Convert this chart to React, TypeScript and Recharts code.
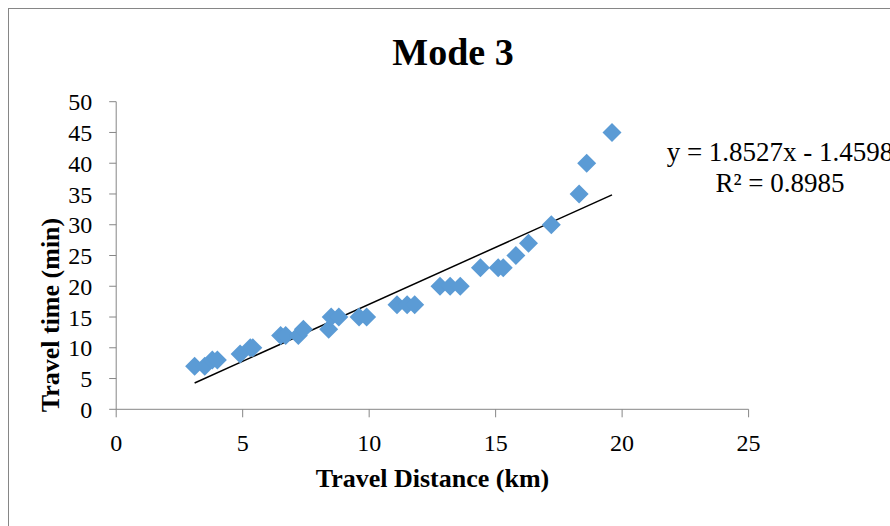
import { ScatterChart, Scatter, XAxis, YAxis, ReferenceLine } from 'recharts'

const distanceKm = [3.1, 3.5, 3.8, 4.0, 4.9, 5.3, 5.4, 6.5, 6.7, 7.2, 7.4, 8.4, 8.5, 8.8, 9.6, 9.9, 11.1, 11.5, 11.8, 12.8, 13.2, 13.6, 14.4, 15.1, 15.3, 15.8, 16.3, 17.2, 18.3, 18.6, 19.6]
const travelMin = [7, 7, 8, 8, 9, 10, 10, 12, 12, 12, 13, 13, 15, 15, 15, 15, 17, 17, 17, 20, 20, 20, 23, 23, 23, 25, 27, 30, 35, 40, 45]
const xTicks = [0, 5, 10, 15, 20, 25]
const yTicks = [0, 5, 10, 15, 20, 25, 30, 35, 40, 45, 50]
const slope = 1.8527
const intercept = -1.4598
const rSquared = 0.8985

const points = distanceKm.map((x, i) => ({ x, y: travelMin[i] }))
const xMin = Math.min(...distanceKm)
const xMax = Math.max(...distanceKm)
const trend = [
  { x: xMin, y: slope * xMin + intercept },
  { x: xMax, y: slope * xMax + intercept },
]

const serif = '"Times New Roman", "Liberation Serif", serif'
const axisGray = '#868686'

function Diamond(props: any) {
  const { cx, cy } = props
  const r = 9.5
  return (
    <polygon
      points={`${cx},${cy - r} ${cx + r},${cy} ${cx},${cy + r} ${cx - r},${cy}`}
      fill="#5B9BD5"
    />
  )
}

const textBase: React.CSSProperties = {
  position: 'absolute',
  fontFamily: serif,
  color: '#000',
  whiteSpace: 'nowrap',
  textAlign: 'center',
}

export default function App() {
  return (
    <div style={{ position: 'fixed', left: 0, top: 0, width: 890, height: 526, overflow: 'hidden', background: '#fff' }}>
      <div style={{ position: 'absolute', left: 8, top: 8, width: 900, height: 600, borderTop: `1px solid ${axisGray}`, borderLeft: `1px solid ${axisGray}` }} />
      <div style={{ position: 'absolute', left: 0, top: 0 }}>
        <ScatterChart
          width={890}
          height={526}
          margin={{ top: 101.7, right: 141.4, bottom: 66.7, left: 16.2 }}
        >
          <XAxis
            type="number"
            dataKey="x"
            domain={[0, 25]}
            ticks={xTicks}
            interval={0}
            height={50}
            stroke={axisGray}
            tickSize={8}
            tickMargin={17}
            tick={{ fill: '#000', fontSize: 24, fontFamily: serif }}
          />
          <YAxis
            type="number"
            dataKey="y"
            domain={[0, 50]}
            ticks={yTicks}
            interval={0}
            width={100}
            stroke={axisGray}
            tickSize={7}
            tickMargin={17}
            tick={{ fill: '#000', fontSize: 24, fontFamily: serif }}
          />
          <ReferenceLine segment={trend} stroke="#000" strokeWidth={1.5} ifOverflow="visible" />
          <Scatter data={points} shape={<Diamond />} isAnimationActive={false} />
        </ScatterChart>
      </div>
      <div style={{ ...textBase, left: 253, width: 400, top: 33, fontSize: 38, lineHeight: '38px', fontWeight: 'bold' }}>
        Mode 3
      </div>
      <div style={{ ...textBase, left: 232.5, width: 400, top: 466, fontSize: 26, lineHeight: '26px', fontWeight: 'bold' }}>
        Travel Distance (km)
      </div>
      <div style={{ ...textBase, left: -98.8, width: 300, top: 302, fontSize: 26, lineHeight: '26px', fontWeight: 'bold', transform: 'rotate(-90deg)' }}>
        Travel time (min)
      </div>
      <div style={{ ...textBase, left: 580, width: 400, top: 139, fontSize: 27, lineHeight: '27px' }}>
        y = {slope}x - {Math.abs(intercept)}
      </div>
      <div style={{ ...textBase, left: 580, width: 400, top: 170, fontSize: 27, lineHeight: '27px' }}>
        R² = {rSquared}
      </div>
    </div>
  )
}
